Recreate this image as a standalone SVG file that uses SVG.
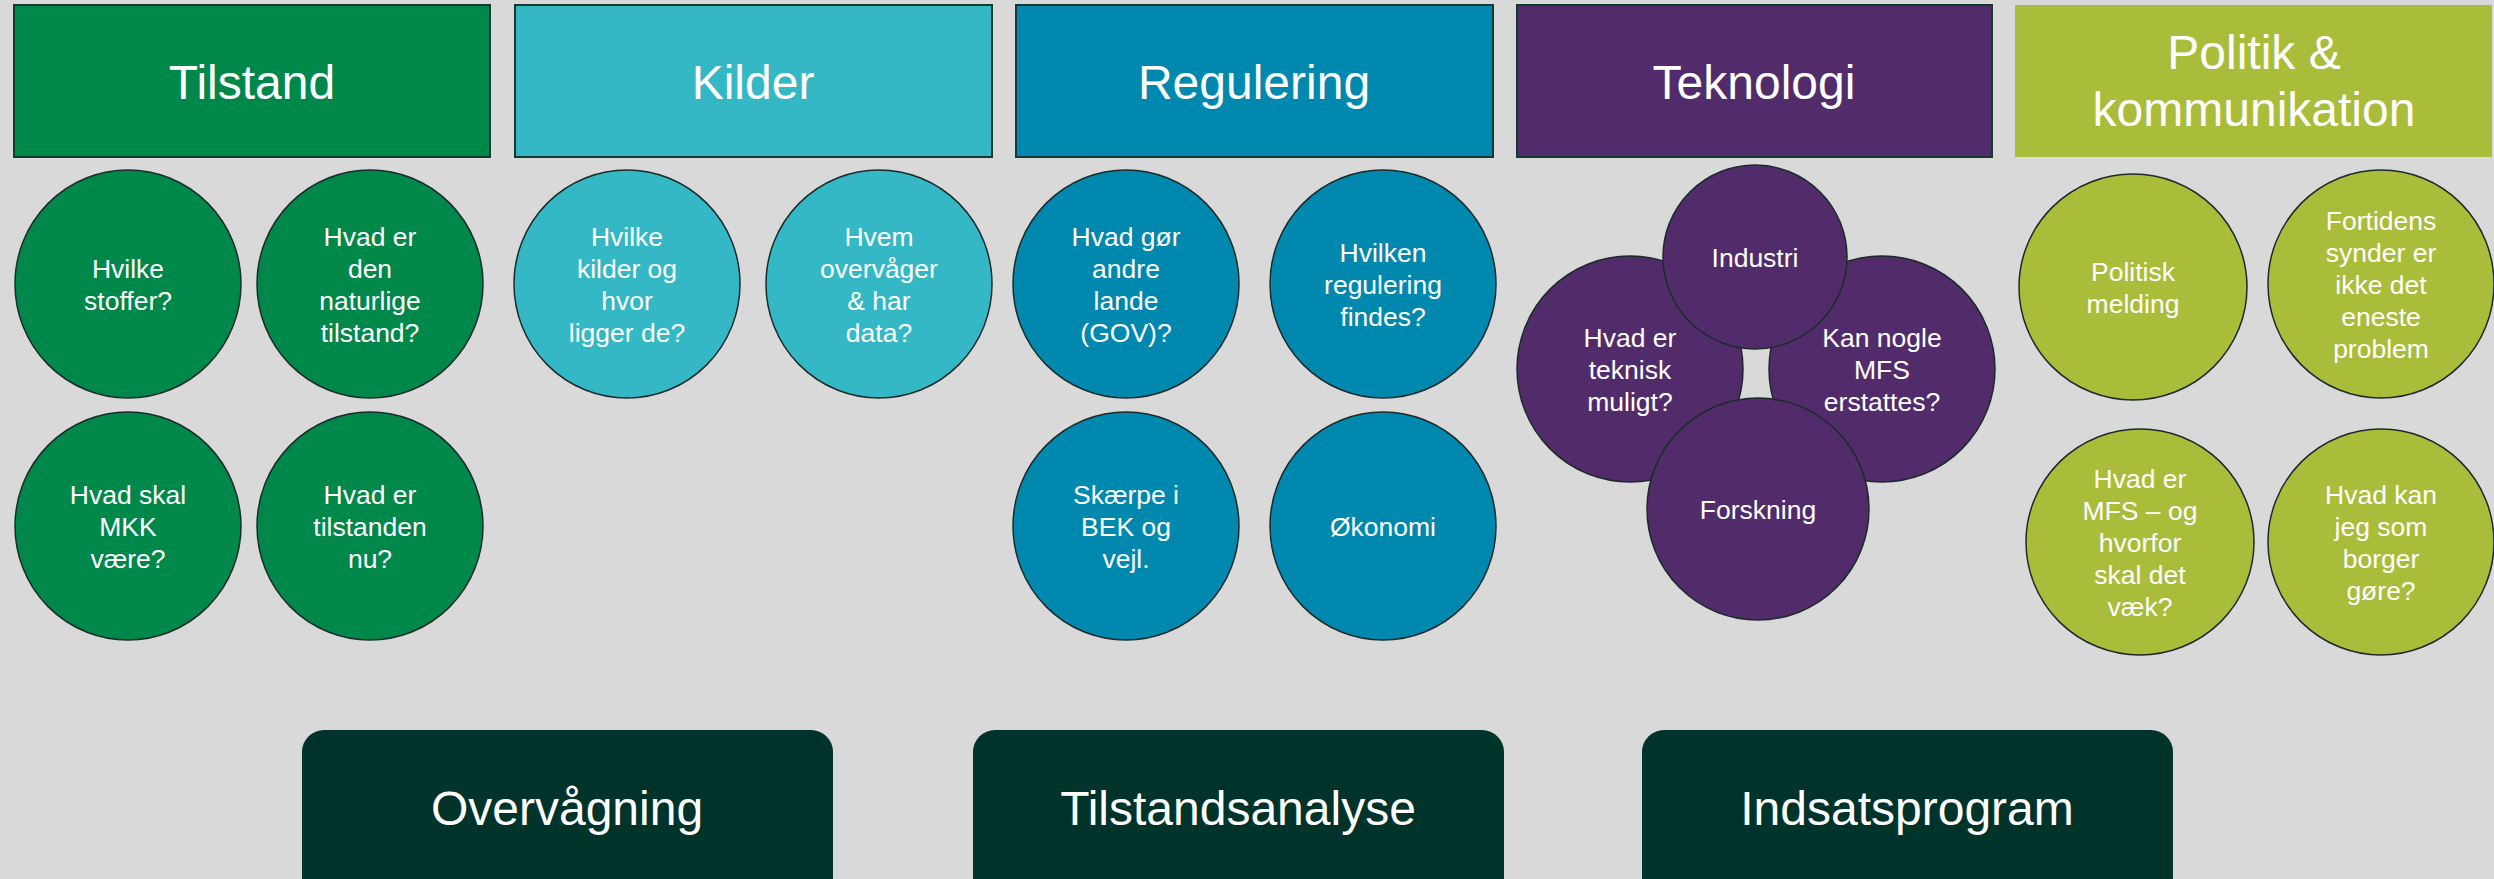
<svg xmlns="http://www.w3.org/2000/svg" width="2494" height="879" viewBox="0 0 2494 879">
<style>
text{font-family:"Liberation Sans",Arial,sans-serif;fill:#ffffff;text-anchor:middle}
.h{font-size:48px}
.c{font-size:26.5px}
.hb{stroke:#123a30;stroke-width:2}
.ci{stroke:#1b2b2b;stroke-width:1.5}
.tl{fill:#00874A}.ki{fill:#35B8C5}.re{fill:#0088AE}.te{fill:#522B6B}.po{fill:#A9BD3A}
.bb{fill:#00332A}
</style>
<rect width="2494" height="879" fill="#D9D9D9"/>
<g id="connectors"></g>
<g id="hdr-tilstand"><rect class="tl hb" x="14" y="5" width="476" height="152"/><text class="h" x="252" y="99">Tilstand</text></g>
<g id="hdr-kilder"><rect class="ki hb" x="515" y="5" width="477" height="152"/><text class="h" x="753" y="99">Kilder</text></g>
<g id="hdr-regulering"><rect class="re hb" x="1016" y="5" width="477" height="152"/><text class="h" x="1254" y="99">Regulering</text></g>
<g id="hdr-teknologi"><rect class="te hb" x="1517" y="5" width="475" height="152"/><text class="h" x="1754" y="99">Teknologi</text></g>
<g id="hdr-politik"><rect class="po" x="2015" y="5" width="477" height="152"/><text class="h" x="2254" y="69">Politik &amp;</text><text class="h" x="2254" y="126">kommunikation</text></g>

<g id="t1"><ellipse class="tl ci" cx="128" cy="284" rx="113" ry="114"/><text class="c" x="128" y="278">Hvilke</text><text class="c" x="128" y="310">stoffer?</text></g>
<g id="t2"><ellipse class="tl ci" cx="370" cy="284" rx="113" ry="114"/><text class="c" x="370" y="246">Hvad er</text><text class="c" x="370" y="278">den</text><text class="c" x="370" y="310">naturlige</text><text class="c" x="370" y="342">tilstand?</text></g>
<g id="t3"><ellipse class="tl ci" cx="128" cy="526" rx="113" ry="114"/><text class="c" x="128" y="504">Hvad skal</text><text class="c" x="128" y="536">MKK</text><text class="c" x="128" y="568">være?</text></g>
<g id="t4"><ellipse class="tl ci" cx="370" cy="526" rx="113" ry="114"/><text class="c" x="370" y="504">Hvad er</text><text class="c" x="370" y="536">tilstanden</text><text class="c" x="370" y="568">nu?</text></g>

<g id="k1"><ellipse class="ki ci" cx="627" cy="284" rx="113" ry="114"/><text class="c" x="627" y="246">Hvilke</text><text class="c" x="627" y="278">kilder og</text><text class="c" x="627" y="310">hvor</text><text class="c" x="627" y="342">ligger de?</text></g>
<g id="k2"><ellipse class="ki ci" cx="879" cy="284" rx="113" ry="114"/><text class="c" x="879" y="246">Hvem</text><text class="c" x="879" y="278">overvåger</text><text class="c" x="879" y="310">&amp; har</text><text class="c" x="879" y="342">data?</text></g>

<g id="r1"><ellipse class="re ci" cx="1126" cy="284" rx="113" ry="114"/><text class="c" x="1126" y="246">Hvad gør</text><text class="c" x="1126" y="278">andre</text><text class="c" x="1126" y="310">lande</text><text class="c" x="1126" y="342">(GOV)?</text></g>
<g id="r2"><ellipse class="re ci" cx="1383" cy="284" rx="113" ry="114"/><text class="c" x="1383" y="262">Hvilken</text><text class="c" x="1383" y="294">regulering</text><text class="c" x="1383" y="326">findes?</text></g>
<g id="r3"><ellipse class="re ci" cx="1126" cy="526" rx="113" ry="114"/><text class="c" x="1126" y="504">Skærpe i</text><text class="c" x="1126" y="536">BEK og</text><text class="c" x="1126" y="568">vejl.</text></g>
<g id="r4"><ellipse class="re ci" cx="1383" cy="526" rx="113" ry="114"/><text class="c" x="1383" y="536">Økonomi</text></g>

<g id="te-left"><ellipse class="te ci" cx="1630" cy="369" rx="113" ry="113"/><text class="c" x="1630" y="347">Hvad er</text><text class="c" x="1630" y="379">teknisk</text><text class="c" x="1630" y="411">muligt?</text></g>
<g id="te-right"><ellipse class="te ci" cx="1882" cy="369" rx="113" ry="113"/><text class="c" x="1882" y="347">Kan nogle</text><text class="c" x="1882" y="379">MFS</text><text class="c" x="1882" y="411">erstattes?</text></g>
<g id="te-industri"><ellipse class="te ci" cx="1755" cy="257" rx="92" ry="92"/><text class="c" x="1755" y="267">Industri</text></g>
<g id="te-forskning"><ellipse class="te ci" cx="1758" cy="509" rx="111" ry="111"/><text class="c" x="1758" y="519">Forskning</text></g>

<g id="p1"><ellipse class="po ci" cx="2133" cy="287" rx="114" ry="113"/><text class="c" x="2133" y="281">Politisk</text><text class="c" x="2133" y="313">melding</text></g>
<g id="p2"><ellipse class="po ci" cx="2381" cy="284" rx="113" ry="114"/><text class="c" x="2381" y="230">Fortidens</text><text class="c" x="2381" y="262">synder er</text><text class="c" x="2381" y="294">ikke det</text><text class="c" x="2381" y="326">eneste</text><text class="c" x="2381" y="358">problem</text></g>
<g id="p3"><ellipse class="po ci" cx="2140" cy="542" rx="114" ry="113"/><text class="c" x="2140" y="488">Hvad er</text><text class="c" x="2140" y="520">MFS – og</text><text class="c" x="2140" y="552">hvorfor</text><text class="c" x="2140" y="584">skal det</text><text class="c" x="2140" y="616">væk?</text></g>
<g id="p4"><ellipse class="po ci" cx="2381" cy="542" rx="113" ry="113"/><text class="c" x="2381" y="504">Hvad kan</text><text class="c" x="2381" y="536">jeg som</text><text class="c" x="2381" y="568">borger</text><text class="c" x="2381" y="600">gøre?</text></g>

<g id="b-overvaagning"><rect class="bb" x="302" y="730" width="531" height="180" rx="22"/><text class="h" x="567" y="825">Overvågning</text></g>
<g id="b-tilstandsanalyse"><rect class="bb" x="973" y="730" width="531" height="180" rx="22"/><text class="h" x="1238" y="825">Tilstandsanalyse</text></g>
<g id="b-indsatsprogram"><rect class="bb" x="1642" y="730" width="531" height="180" rx="22"/><text class="h" x="1907" y="825">Indsatsprogram</text></g>
</svg>
